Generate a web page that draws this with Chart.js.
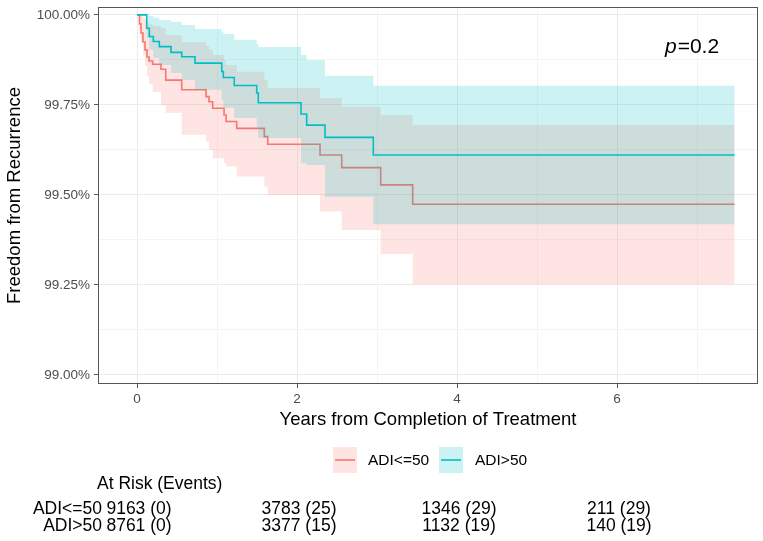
<!DOCTYPE html>
<html>
<head>
<title>Freedom from Recurrence</title>
<script src="https://cdn.jsdelivr.net/npm/chart.js"></script>
<style>
    body {
        margin: 0;
        padding: 0;
        background: white;
    }
    .wrap {
        width: 763px;
        height: 541px;
        position: relative;
    }
</style>
</head>
<body>
<div class="wrap"><canvas id="km"></canvas></div>
<script>
// ADI<=50 : step times (years), survival (%), 95% band
const redTime  = [0, 0.031, 0.05, 0.075, 0.10, 0.125, 0.15, 0.196, 0.30, 0.359, 0.559, 0.863, 0.90, 0.946, 1.088, 1.113, 1.246, 1.591, 1.634, 2.288, 2.559, 3.046, 3.446, 7.47];
const redSurv  = [100, 99.975, 99.950, 99.925, 99.903, 99.883, 99.872, 99.863, 99.849, 99.819, 99.792, 99.773, 99.759, 99.741, 99.722, 99.704, 99.685, 99.662, 99.641, 99.611, 99.576, 99.528, 99.474, 99.474];
const redUpper = [100, 100, 99.997, 99.992, 99.986, 99.981, 99.975, 99.969, 99.964, 99.944, 99.925, 99.914, 99.903, 99.889, 99.875, 99.861, 99.842, 99.819, 99.797, 99.769, 99.745, 99.722, 99.694, 99.694];
const redLower = [100, 99.958, 99.925, 99.889, 99.858, 99.831, 99.808, 99.786, 99.750, 99.728, 99.667, 99.648, 99.625, 99.602, 99.589, 99.579, 99.551, 99.523, 99.500, 99.454, 99.403, 99.336, 99.252, 99.252];

// ADI>50
const tealTime  = [0, 0.121, 0.154, 0.204, 0.279, 0.425, 0.559, 0.725, 1.059, 1.079, 1.216, 1.496, 1.516, 2.05, 2.121, 2.35, 2.954, 7.47];
const tealSurv  = [100, 99.963, 99.940, 99.926, 99.912, 99.896, 99.884, 99.866, 99.843, 99.826, 99.804, 99.783, 99.756, 99.725, 99.694, 99.660, 99.611, 99.611];
const tealUpper = [100, 100, 99.997, 99.992, 99.986, 99.981, 99.972, 99.961, 99.953, 99.947, 99.931, 99.919, 99.911, 99.889, 99.875, 99.831, 99.803, 99.803];
const tealLower = [100, 99.936, 99.903, 99.881, 99.861, 99.839, 99.819, 99.792, 99.764, 99.742, 99.714, 99.689, 99.658, 99.588, 99.583, 99.495, 99.419, 99.419];

const groups = ['ADI<=50', 'ADI>50'];
const riskTimes = [0, 2, 4, 6];
const riskRed  = ['9163 (0)', '3783 (25)', '1346 (29)', '211 (29)'];
const riskTeal = ['8761 (0)', '3377 (15)', '1132 (19)', '140 (19)'];

const xMajor = [0, 2, 4, 6];
const xMinor = [1, 3, 5, 7];
const yMajor = [99, 99.25, 99.5, 99.75, 100];
const yMinor = [99.125, 99.375, 99.625, 99.875];

const RED = '#F8766D';
const TEAL = '#00BFC4';
const RED_BAND = 'rgba(248,118,109,0.2)';
const TEAL_BAND = 'rgba(0,191,196,0.2)';
const FONT = "'Liberation Sans', Arial, sans-serif";

function pts(times, vals) {
    return times.map((t, i) => ({ x: t, y: vals[i] }));
}

function lineSet(label, data, color, order) {
    return { label: label, data: data, borderColor: color, borderWidth: 1.6,
             stepped: 'before', pointRadius: 0, fill: false, order: order };
}

function bandSet(data, color, fillTo, order) {
    return { data: data, borderWidth: 0, borderColor: 'rgba(0,0,0,0)', backgroundColor: color,
             stepped: 'before', pointRadius: 0, fill: fillTo, order: order };
}

const isMajorX = v => xMajor.includes(v);
const isMajorY = v => yMajor.includes(v);

// legend, at-risk table, panel border, p value
const extras = {
    id: 'extras',
    afterDraw(chart) {
        const ctx = chart.ctx;
        const a = chart.chartArea;
        const xs = chart.scales.x;
        const ys = chart.scales.y;
        ctx.save();

        ctx.strokeStyle = '#555';
        ctx.lineWidth = 1;
        ctx.strokeRect(a.left + 0.5, a.top + 0.5, a.right - a.left - 1, a.bottom - a.top - 1);

        // p value
        ctx.fillStyle = '#000';
        ctx.textBaseline = 'middle';
        ctx.textAlign = 'left';
        const px = xs.getPixelForValue(6.6);
        const py = ys.getPixelForValue(99.91);
        ctx.font = 'italic 21px ' + FONT;
        ctx.fillText('p', px, py);
        const pw = ctx.measureText('p').width;
        ctx.font = '21px ' + FONT;
        ctx.fillText('=0.2', px + pw + 1, py);

        // legend
        const keys = [[333, RED_BAND, RED, groups[0], 368], [439, TEAL_BAND, TEAL, groups[1], 475]];
        ctx.font = '15.5px ' + FONT;
        keys.forEach(k => {
            ctx.fillStyle = k[1];
            ctx.fillRect(k[0], 447, 24, 26);
            ctx.strokeStyle = k[2];
            ctx.lineWidth = 1.6;
            ctx.beginPath();
            ctx.moveTo(k[0] + 2, 460);
            ctx.lineTo(k[0] + 22, 460);
            ctx.stroke();
            ctx.fillStyle = '#000';
            ctx.fillText(k[3], k[4], 461);
        });

        // at risk table
        ctx.font = '17.5px ' + FONT;
        ctx.fillText('At Risk (Events)', 97, 484);
        ctx.textAlign = 'right';
        ctx.fillText(groups[0], 102, 509);
        ctx.fillText(groups[1], 102, 526);
        ctx.textAlign = 'center';
        riskTimes.forEach((t, i) => {
            const x = xs.getPixelForValue(t) + 2;
            ctx.fillText(riskRed[i], x, 509);
            ctx.fillText(riskTeal[i], x, 526);
        });
        ctx.restore();
    }
};

new Chart(document.getElementById('km'), {
    type: 'line',
    data: {
        datasets: [
            lineSet(groups[0], pts(redTime, redSurv), RED, 3),
            bandSet(pts(redTime, redUpper), RED_BAND, '+1', 4),
            bandSet(pts(redTime, redLower), RED_BAND, false, 4),
            lineSet(groups[1], pts(tealTime, tealSurv), TEAL, 1),
            bandSet(pts(tealTime, tealUpper), TEAL_BAND, '+1', 2),
            bandSet(pts(tealTime, tealLower), TEAL_BAND, false, 2)
        ]
    },
    plugins: [extras],
    options: {
        responsive: true,
        maintainAspectRatio: false,
        animation: false,
        layout: { padding: { top: 7, right: 5, left: 0, bottom: 0 } },
        plugins: {
            legend: { display: false },
            tooltip: { enabled: false }
        },
        scales: {
            x: {
                type: 'linear',
                min: -0.4875,
                max: 7.7625,
                afterBuildTicks: s => { s.ticks = xMajor.concat(xMinor).sort((p, q) => p - q).map(v => ({ value: v })); },
                afterFit: s => { s.height = 157; s.paddingLeft = 0; s.paddingRight = 0; },
                border: { display: false },
                grid: {
                    color: c => isMajorX(c.tick.value) ? '#ebebeb' : '#f4f4f4',
                    tickColor: c => isMajorX(c.tick.value) ? '#555' : 'rgba(0,0,0,0)',
                    tickLength: 4,
                    lineWidth: 1
                },
                ticks: {
                    padding: 3,
                    maxRotation: 0,
                    autoSkip: false,
                    color: '#4d4d4d',
                    font: { family: FONT, size: 13.5 },
                    callback: v => isMajorX(v) ? String(v) : ''
                },
                title: {
                    display: true,
                    text: 'Years from Completion of Treatment',
                    color: '#000',
                    font: { family: FONT, size: 18.5 },
                    padding: { top: 0, bottom: 110 }
                }
            },
            y: {
                type: 'linear',
                min: 98.975,
                max: 100.022,
                afterBuildTicks: s => { s.ticks = yMajor.concat(yMinor).sort((p, q) => p - q).map(v => ({ value: v })); },
                afterFit: s => { s.width = 98; s.paddingTop = 0; s.paddingBottom = 0; },
                border: { display: false },
                grid: {
                    color: c => isMajorY(c.tick.value) ? '#ebebeb' : '#f4f4f4',
                    tickColor: c => isMajorY(c.tick.value) ? '#555' : 'rgba(0,0,0,0)',
                    tickLength: 4,
                    lineWidth: 1
                },
                ticks: {
                    padding: 4,
                    autoSkip: false,
                    color: '#4d4d4d',
                    font: { family: FONT, size: 13.5 },
                    callback: v => isMajorY(v) ? v.toFixed(2) + '%' : ''
                },
                title: {
                    display: true,
                    text: 'Freedom from Recurrence',
                    color: '#000',
                    font: { family: FONT, size: 18.5 },
                    padding: { top: 4, bottom: 0 }
                }
            }
        }
    }
});
</script>
</body>
</html>
